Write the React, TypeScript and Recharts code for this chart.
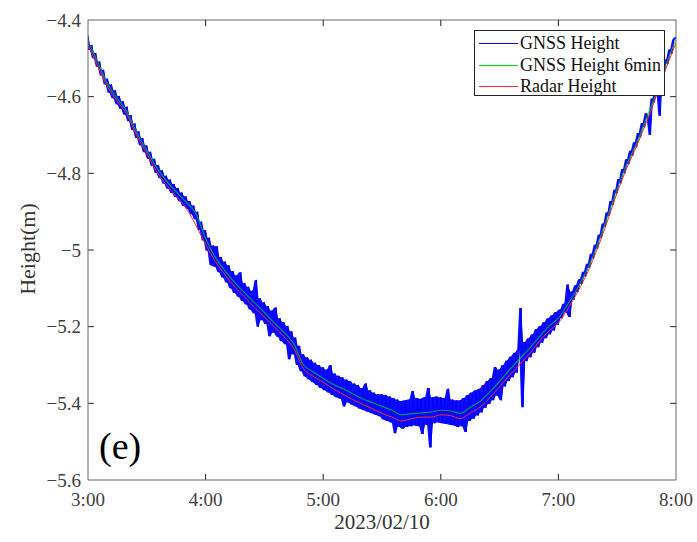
import React from 'react';
import { ComposedChart, Line, Area, XAxis, YAxis, ReferenceLine, Legend, Label } from 'recharts';

// x positions are minutes after 3:00
const xTicks = [0, 60, 120, 180, 240, 300];
const xTickLabels = ['3:00', '4:00', '5:00', '6:00', '7:00', '8:00'];
const yTicks = [-5.6, -5.4, -5.2, -5, -4.8, -4.6, -4.4];

// raw GNSS height, one reading per minute
const gnssMinutes = Array.from({ length: 301 }, (_, i) => i);
const gnssHeight = [
  -4.440, -4.478, -4.465, -4.500, -4.486, -4.522, -4.508, -4.545, -4.530, -4.568,
  -4.553, -4.590, -4.568, -4.604, -4.583, -4.620, -4.598, -4.632, -4.612, -4.647,
  -4.626, -4.664, -4.648, -4.687, -4.670, -4.708, -4.690, -4.727, -4.708, -4.745,
  -4.727, -4.762, -4.744, -4.781, -4.762, -4.799, -4.778, -4.813, -4.792, -4.827,
  -4.806, -4.840, -4.816, -4.851, -4.828, -4.862, -4.838, -4.873, -4.850, -4.885,
  -4.860, -4.893, -4.872, -4.907, -4.884, -4.920, -4.900, -4.948, -4.926, -4.975,
  -4.948, -5.002, -4.968, -5.040, -4.988, -5.044, -4.990, -5.058, -5.018, -5.072,
  -5.030, -5.085, -5.040, -5.100, -5.055, -5.112, -5.066, -5.122, -5.058, -5.133,
  -5.086, -5.142, -5.096, -5.155, -5.106, -5.165, -5.078, -5.200, -5.126, -5.183,
  -5.136, -5.193, -5.146, -5.225, -5.158, -5.216, -5.150, -5.226, -5.178, -5.238,
  -5.188, -5.246, -5.198, -5.285, -5.212, -5.272, -5.228, -5.300, -5.250, -5.316,
  -5.272, -5.330, -5.280, -5.338, -5.286, -5.345, -5.294, -5.352, -5.300, -5.360,
  -5.306, -5.366, -5.312, -5.372, -5.300, -5.378, -5.322, -5.384, -5.328, -5.388,
  -5.332, -5.408, -5.338, -5.398, -5.342, -5.404, -5.348, -5.408, -5.352, -5.414,
  -5.360, -5.418, -5.348, -5.422, -5.366, -5.426, -5.372, -5.430, -5.376, -5.434,
  -5.376, -5.442, -5.378, -5.446, -5.382, -5.450, -5.386, -5.478, -5.390, -5.462,
  -5.394, -5.466, -5.392, -5.462, -5.390, -5.460, -5.368, -5.458, -5.386, -5.460,
  -5.388, -5.480, -5.384, -5.456, -5.360, -5.515, -5.384, -5.452, -5.382, -5.450,
  -5.384, -5.452, -5.386, -5.454, -5.362, -5.456, -5.390, -5.458, -5.392, -5.462,
  -5.392, -5.460, -5.386, -5.475, -5.378, -5.446, -5.372, -5.440, -5.366, -5.432,
  -5.362, -5.424, -5.352, -5.412, -5.342, -5.402, -5.334, -5.392, -5.305, -5.380,
  -5.312, -5.392, -5.300, -5.356, -5.288, -5.342, -5.278, -5.332, -5.268, -5.320,
  -5.258, -5.151, -5.410, -5.240, -5.290, -5.230, -5.280, -5.220, -5.268, -5.206,
  -5.254, -5.198, -5.242, -5.188, -5.230, -5.178, -5.220, -5.170, -5.210, -5.162,
  -5.195, -5.155, -5.178, -5.140, -5.163, -5.090, -5.175, -5.108, -5.130, -5.092,
  -5.110, -5.076, -5.089, -5.057, -5.069, -5.036, -5.047, -5.010, -5.022, -4.986,
  -4.997, -4.960, -4.969, -4.931, -4.940, -4.902, -4.911, -4.872, -4.882, -4.843,
  -4.852, -4.815, -4.826, -4.789, -4.800, -4.763, -4.776, -4.741, -4.754, -4.719,
  -4.732, -4.695, -4.706, -4.669, -4.680, -4.643, -4.654, -4.700, -4.605, -4.615,
  -4.578, -4.586, -4.650, -4.533, -4.542, -4.503, -4.514, -4.477, -4.488, -4.452,
  -4.445,
];

// 6-minute GNSS and radar heights, every 5 minutes
const smoothMinutes = Array.from({ length: 61 }, (_, i) => i * 5);
const gnss6min = [
  -4.455, -4.510, -4.567, -4.605, -4.640, -4.695, -4.740, -4.785, -4.820, -4.848,
  -4.875, -4.905, -4.970, -5.020, -5.055, -5.086, -5.112, -5.138, -5.163, -5.190,
  -5.215, -5.245, -5.300, -5.318, -5.335, -5.350, -5.362, -5.375, -5.388, -5.398,
  -5.408, -5.418, -5.430, -5.427, -5.425, -5.423, -5.418, -5.420, -5.426, -5.410,
  -5.395, -5.370, -5.343, -5.313, -5.285, -5.258, -5.228, -5.200, -5.178, -5.140,
  -5.097, -5.047, -4.985, -4.914, -4.840, -4.775, -4.720, -4.655, -4.590, -4.515,
  -4.450,
];
const radarHeight = [
  -4.465, -4.520, -4.575, -4.612, -4.648, -4.703, -4.748, -4.795, -4.830, -4.860,
  -4.890, -4.935, -4.985, -5.030, -5.065, -5.097, -5.123, -5.150, -5.175, -5.200,
  -5.226, -5.257, -5.310, -5.330, -5.345, -5.362, -5.376, -5.390, -5.402, -5.414,
  -5.426, -5.436, -5.446, -5.440, -5.436, -5.436, -5.430, -5.432, -5.440, -5.425,
  -5.410, -5.385, -5.357, -5.327, -5.300, -5.272, -5.240, -5.212, -5.190, -5.152,
  -5.108, -5.057, -4.995, -4.925, -4.850, -4.785, -4.728, -4.665, -4.598, -4.525,
  -4.460,
];

// the dense 1 Hz trace shows up as a filled band; its spread per minute comes
// from neighbouring readings
const gnssData = gnssMinutes.map((m, i) => {
  const a = gnssHeight[i];
  const b = gnssHeight[Math.min(i + 1, gnssHeight.length - 1)];
  return { m, v: a, band: [Math.min(a, b), Math.max(a, b)] };
});
const gnss6Data = smoothMinutes.map((m, i) => ({ m, v: gnss6min[i] }));
const radarData = smoothMinutes.map((m, i) => ({ m, v: radarHeight[i] }));

const axisColor = '#666666';
const serif = '"Liberation Serif", "Times New Roman", serif';
const textStyle = { fontFamily: serif };
const tickColor = '#404040';

const fmtY = (v: number) => (v < 0 ? '\u2212' : '') + String(Math.abs(v));

const XTick = (props: any) => (
  <text
    x={props.x}
    y={props.y}
    dy="0.75em"
    textAnchor="middle"
    fontSize={19}
    fontFamily={serif}
    style={textStyle}
    fill={tickColor}
    stroke="none"
  >
    {xTickLabels[xTicks.indexOf(props.payload.value)]}
  </text>
);

const YTick = (props: any) => (
  <text
    x={props.x}
    y={props.y}
    dy="0.35em"
    textAnchor="end"
    fontSize={19}
    fontFamily={serif}
    style={textStyle}
    fill={tickColor}
    stroke="none"
  >
    {fmtY(props.payload.value)}
  </text>
);

const renderLegend = (props: any) => {
  const items = (props.payload || []).filter((p: any) => p.type !== 'none');
  return (
    <div
      style={{
        width: 191,
        height: 66,
        boxSizing: 'border-box',
        border: '1px solid #222',
        background: '#fff',
        padding: '2px 0 0 4px',
        fontFamily: serif,
      }}
    >
      {items.map((p: any) => (
        <div key={p.value} style={{ display: 'flex', alignItems: 'center', height: 21.5 }}>
          <span style={{ width: 39, borderTop: `1.5px solid ${p.color}`, marginRight: 2 }} />
          <span style={{ fontSize: 18, color: '#111' }}>{p.value}</span>
        </div>
      ))}
    </div>
  );
};

export default function App() {
  const tickLen = 3; // minutes
  const tickLenY = 0.016;
  return (
    <div
      style={{ position: 'absolute', left: 0, top: 0, width: 697, height: 542, background: '#fff', fontFamily: serif }}
    >
      <ComposedChart width={697} height={542} margin={{ top: 20, right: 21, bottom: 0, left: 0 }} style={textStyle}>
        <XAxis
          type="number"
          dataKey="m"
          domain={[0, 300]}
          ticks={xTicks}
          allowDataOverflow
          height={62}
          stroke={axisColor}
          tickLine={false}
          tickSize={0}
          tickMargin={12}
          tick={XTick}
        >
          <Label
            content={(p: any) => (
              <text
                x={p.viewBox.x + p.viewBox.width / 2}
                y={p.viewBox.y + 49}
                textAnchor="middle"
                fontSize={21}
                style={textStyle}
                fill="#333"
                stroke="none"
              >
                2023/02/10
              </text>
            )}
          />
        </XAxis>
        <YAxis
          type="number"
          domain={[-5.6, -4.4]}
          ticks={yTicks}
          allowDataOverflow
          width={88}
          stroke={axisColor}
          tickLine={false}
          tickSize={0}
          tickMargin={7}
          tick={YTick}
        >
          <Label
            content={() => (
              <text
                x={35}
                y={249}
                transform="rotate(-90 35 249)"
                textAnchor="middle"
                fontSize={22}
                style={textStyle}
                fill="#333"
                stroke="none"
              >
                Height(m)
              </text>
            )}
          />
        </YAxis>

        {/* box: top and right edges */}
        <ReferenceLine y={-4.4} stroke={axisColor} />
        <ReferenceLine x={300} stroke={axisColor} />

        {/* inward ticks */}
        {yTicks.slice(1, -1).map((y) => (
          <ReferenceLine key={'l' + y} segment={[{ x: 0, y }, { x: tickLen, y }]} stroke="#222" />
        ))}
        {yTicks.slice(1, -1).map((y) => (
          <ReferenceLine key={'r' + y} segment={[{ x: 300 - tickLen, y }, { x: 300, y }]} stroke="#222" />
        ))}
        {xTicks.slice(1, -1).map((x) => (
          <ReferenceLine key={'b' + x} segment={[{ x, y: -5.6 }, { x, y: -5.6 + tickLenY }]} stroke="#222" />
        ))}
        {xTicks.slice(1, -1).map((x) => (
          <ReferenceLine key={'t' + x} segment={[{ x, y: -4.4 - tickLenY }, { x, y: -4.4 }]} stroke="#222" />
        ))}

        <Area
          data={gnssData}
          dataKey="band"
          type="linear"
          stroke="none"
          fill="#0000ff"
          fillOpacity={0.95}
          legendType="none"
          activeDot={false}
          isAnimationActive={false}
        />
        <Line
          data={gnssData}
          dataKey="v"
          name="GNSS Height"
          type="linear"
          stroke="#0000ff"
          strokeWidth={1}
          dot={false}
          activeDot={false}
          isAnimationActive={false}
        />
        <Line
          data={gnss6Data}
          dataKey="v"
          name="GNSS Height 6min"
          type="monotone"
          stroke="#00dd00"
          strokeOpacity={0.65}
          strokeWidth={1.2}
          dot={false}
          activeDot={false}
          isAnimationActive={false}
        />
        <Line
          data={radarData}
          dataKey="v"
          name="Radar Height"
          type="monotone"
          stroke="#ff2a2a"
          strokeWidth={1}
          dot={false}
          activeDot={false}
          isAnimationActive={false}
        />

        <Legend
          layout="vertical"
          align="center"
          verticalAlign="middle"
          wrapperStyle={{ position: 'absolute', top: 30, left: 474, width: 191, height: 66 }}
          content={renderLegend}
        />
      </ComposedChart>
      <div
        style={{
          position: 'absolute',
          left: 99,
          top: 427,
          fontSize: 38,
          lineHeight: 1,
          fontFamily: serif,
          color: '#000',
        }}
      >
        (e)
      </div>
    </div>
  );
}
